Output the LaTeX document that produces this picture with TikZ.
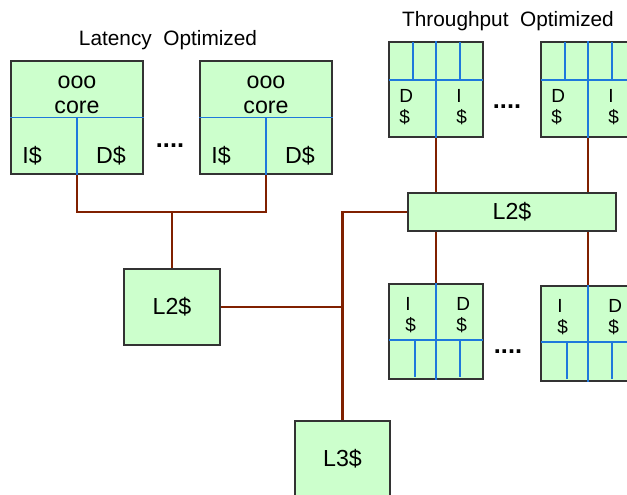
\documentclass[tikz,border=0pt]{standalone}
\usepackage{fontspec}
\setmainfont{Liberation Sans}
\usetikzlibrary{positioning}
\definecolor{cachegreen}{RGB}{204,255,204}
\definecolor{wirebrown}{RGB}{128,32,0}
\definecolor{splitblue}{RGB}{30,120,220}

\begin{document}
\begin{tikzpicture}[x=0.025cm,y=-0.025cm]
  \tikzstyle{cachebox}=[draw=black!80,fill=cachegreen,line width=0.9pt,inner sep=0pt]
  \tikzstyle{divider}=[draw=splitblue,line width=0.9pt]
  \tikzstyle{wire}=[draw=wirebrown,line width=1.5pt]
  \tikzstyle{biglbl}=[font=\fontsize{16.5}{18}\selectfont,align=center]
  \tikzstyle{smalllbl}=[font=\fontsize{13.5}{15}\selectfont,align=left,anchor=west,inner sep=0pt]
  \tikzstyle{dots}=[font=\fontsize{18}{20}\selectfont\bfseries]
  \tikzstyle{title}=[font=\fontsize{14.8}{17}\selectfont]
  \clip (0,0) rectangle (627,495);

  % latency optimized side
  \node[title] (lat_title) at (168,40) {Latency\ \ Optimized};
  \node[cachebox,minimum width=3.3cm,minimum height=2.825cm] (lat_1) at (77,117.5) {};
  \node[cachebox,minimum width=3.3cm,minimum height=2.825cm] (lat_2) at (266,117.5) {};
  \foreach \c/\x in {lat_1/77,lat_2/266} {
    \draw[divider] (\c.west) -- (\c.east);
    \draw[divider] (\c.center) -- (\c.south);
    \node[biglbl] (\c-core) at (\x,95) {ooo\\core};
    \node[biglbl] (\c-i) at (\x-45,156) {I\$};
    \node[biglbl] (\c-d) at (\x+34,156) {D\$};
  }
  \node[dots] (lat_dots) at (170,146) {....};
  \node[cachebox,minimum width=2.4cm,minimum height=1.9cm,biglbl] (l2_lat) at (172,307) {L2\$};

  % throughput optimized side
  \node[title] (thr_title) at (508,21) {Throughput\ \ Optimized};
  \node[cachebox,minimum width=2.35cm,minimum height=2.375cm] (thr_1) at (436,89.5) {};
  \node[cachebox,minimum width=2.35cm,minimum height=2.375cm] (thr_2) at (588,89.5) {};
  \foreach \c/\x in {thr_1/436,thr_2/588} {
    \draw[divider] (\x-47,80) -- (\x+47,80);
    \draw[divider] (\c.north) -- (\c.south);
    \draw[divider] (\x-23,42) -- (\x-23,80);
    \draw[divider] (\x+24,42) -- (\x+24,80);
    \node[smalllbl] (\c-d) at (\x-37,107) {D\\\$};
    \node[smalllbl] (\c-i) at (\x+20,107) {I\\\$};
  }
  \node[dots] (thr_top_dots) at (507,107) {....};
  \node[cachebox,minimum width=5.2cm,minimum height=0.95cm,biglbl] (l2_thr) at (512,212) {L2\$};

  \node[cachebox,minimum width=2.35cm,minimum height=2.375cm] (thr_3) at (436,331.5) {};
  \node[cachebox,minimum width=2.35cm,minimum height=2.375cm] (thr_4) at (588,333.5) {};
  \foreach \c/\x/\t in {thr_3/436/284,thr_4/588/286} {
    \draw[divider] (\x-47,\t+56) -- (\x+47,\t+56);
    \draw[divider] (\c.north) -- (\c.south);
    \draw[divider] (\x-21,\t+56) -- (\x-21,\t+93);
    \draw[divider] (\x+24,\t+56) -- (\x+24,\t+93);
    \node[smalllbl] (\c-i) at (\x-31,\t+31) {I\\\$};
    \node[smalllbl] (\c-d) at (\x+20,\t+31) {D\\\$};
  }
  \node[dots] (thr_bot_dots) at (508,352) {....};

  \node[cachebox,minimum width=2.375cm,minimum height=1.9cm,biglbl] (l3) at (342.5,459) {L3\$};

  % wires
  \coordinate (j_lat) at (172,212);
  \draw[wire] (lat_1.south) |- (j_lat) -| (lat_2.south);
  \draw[wire] (j_lat) -- (l2_lat.north);
  \draw[wire] (l2_thr.west) -| (l3.north);
  \draw[wire] (l2_lat.east) -- (l2_lat.east -| l3.north);
  \draw[wire] (thr_1.south) -- (thr_1.south |- l2_thr.north);
  \draw[wire] (thr_2.south) -- (thr_2.south |- l2_thr.north);
  \draw[wire] (thr_3.north) -- (thr_3.north |- l2_thr.south);
  \draw[wire] (thr_4.north) -- (thr_4.north |- l2_thr.south);
\end{tikzpicture}
\end{document}
